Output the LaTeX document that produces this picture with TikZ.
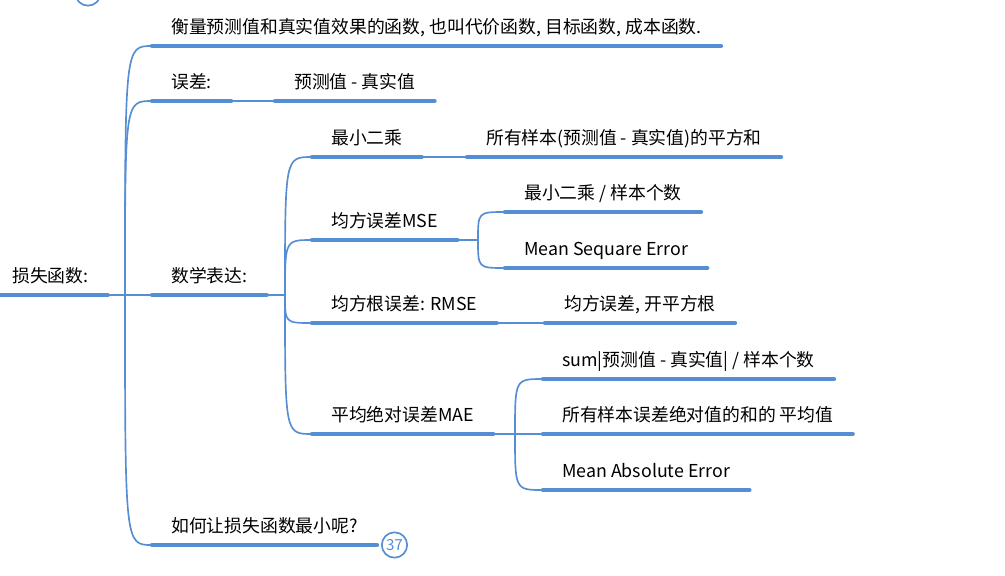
\documentclass[tikz,border=0pt]{standalone}
\usepackage{fontspec}
\setmainfont{Noto Sans CJK SC}
\usetikzlibrary{positioning}
\definecolor{mapblue}{RGB}{86,142,212}

\begin{document}
\begin{tikzpicture}[x=0.03cm, y=-0.03cm,
  every node/.style={font=\fontsize{15.2pt}{18pt}\selectfont},
  uline/.style={draw=mapblue, line width=0.135cm, line cap=round},
  topic/.style={anchor=south west, inner xsep=0.57cm, inner ysep=0pt, text height=0.5cm, text depth=0.36cm,
    append after command={(\tikzlastnode.south west) edge[uline] (\tikzlastnode.south east)}},
  link/.style={draw=mapblue, line width=0.05cm},
  curvy/.style={to path={.. controls (\tikztostart |- \tikztotarget) and (\tikztostart |- \tikztotarget) .. (\tikztotarget)}},
  count/.style={circle, draw=mapblue, line width=0.05cm, fill=white, text=mapblue, minimum size=0.76cm, inner sep=0pt, font=\fontsize{13pt}{14pt}\selectfont}]
\useasboundingbox (0,0) rectangle (1005,575);

\coordinate (j0) at (125,295);
\coordinate (j1) at (285,295);
\coordinate (j2) at (478,240);
\coordinate (j3) at (515,434);

\node[topic] (root) at (-7,295) {损失函数:};
\node[topic] (def) at (152,46) {衡量预测值和真实值效果的函数, 也叫代价函数, 目标函数, 成本函数.};
\node[topic] (err) at (152,101) {误差:};
\node[topic] (errv) at (275,101) {预测值 - 真实值};
\node[topic] (math) at (152,295) {数学表达:};
\node[topic] (howto) at (152,545) {如何让损失函数最小呢?};
\node[count, right=0.12cm of howto.south east] (n37) {37};
\node[count] (n0) at (88,-7) {};

\node[topic] (ls) at (312,157) {最小二乘};
\node[topic] (lsv) at (467,157) {所有样本(预测值 - 真实值)的平方和};
\node[topic] (mse) at (312,240) {均方误差MSE};
\node[topic] (mse1) at (505,212) {最小二乘 / 样本个数};
\node[topic] (mse2) at (505,268) {Mean Sequare Error};
\node[topic] (rmse) at (312,323) {均方根误差: RMSE};
\node[topic] (rmsev) at (545,323) {均方误差, 开平方根};
\node[topic] (mae) at (312,434) {平均绝对误差MAE};
\node[topic] (mae1) at (543,379) {sum|预测值 - 真实值| / 样本个数};
\node[topic] (mae2) at (543,434) {所有样本误差绝对值的和的 平均值};
\node[topic] (mae3) at (543,490) {Mean Absolute Error};

\draw[link] (root.south east) -- (j0) -- (math.south west);
\foreach \n in {def,err,howto} \draw[link] (j0) to[curvy] (\n.south west);
\draw[link] (err.south east) -- (errv.south west);
\draw[link] (math.south east) -- (j1);
\foreach \n in {ls,mse,rmse,mae} \draw[link] (j1) to[curvy] (\n.south west);
\draw[link] (ls.south east) -- (lsv.south west);
\draw[link] (mse.south east) -- (j2);
\foreach \n in {mse1,mse2} \draw[link] (j2) to[curvy] (\n.south west);
\draw[link] (rmse.south east) -- (rmsev.south west);
\draw[link] (mae.south east) -- (j3) -- (mae2.south west);
\foreach \n in {mae1,mae3} \draw[link] (j3) to[curvy] (\n.south west);
\end{tikzpicture}
\end{document}
